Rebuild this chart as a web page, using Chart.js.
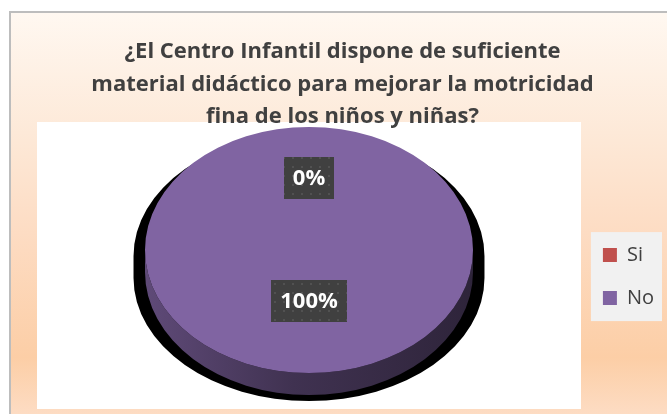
<!DOCTYPE html>
<html>
<head>
<meta charset="utf-8">
<script src="https://cdn.jsdelivr.net/npm/chart.js@4.4.1/dist/chart.umd.min.js"></script>
<style>
  html, body { margin: 0; padding: 0; background: #fff; }
</style>
</head>
<body>
<canvas id="chart" width="667" height="414"></canvas>
<script>
// data
const titleLines = [
  '¿El Centro Infantil dispone de suficiente',
  'material didáctico para mejorar la motricidad',
  'fina de los niños y niñas?'
];
const categories = ['Si', 'No'];
const values = [0, 100];

// styles
const sliceColors = ['#c0504d', '#8064a2'];
const PLOT = { left: 37, top: 122, right: 581, bottom: 409 }; // white plot box
const FLOOR = 31;      // room under the pie for edge + shadow
const TILT = 0.75;     // vertical squash of the pie top
const DEPTH = 22;      // thickness of the 3D edge
const LABEL_LIFT = 11;

function shade(hex, f) {
  const n = parseInt(hex.slice(1), 16);
  const c = [n >> 16, (n >> 8) & 255, n & 255].map(v => Math.round(v * f));
  return 'rgb(' + c.join(',') + ')';
}

// parts of [s, e] that lie on the front (lower) half of the ellipse
function frontRanges(s, e) {
  const out = [];
  for (const k of [-2, 0, 2]) {
    const a = Math.max(s, k * Math.PI), b = Math.min(e, k * Math.PI + Math.PI);
    if (b > a) out.push([a, b]);
  }
  return out;
}

const dots = document.createElement('canvas');
dots.width = dots.height = 9;
const dc = dots.getContext('2d');
dc.fillStyle = 'rgba(255,255,255,0.09)';
dc.fillRect(4, 4, 2, 2);

const backdrop = {
  id: 'backdrop',
  beforeDraw(chart) {
    const { ctx, width, height } = chart;
    ctx.save();
    ctx.fillStyle = '#fff';
    ctx.fillRect(0, 0, width, height);
    const g = ctx.createLinearGradient(0, 12, 0, height);
    g.addColorStop(0, '#fff8f1');
    g.addColorStop(0.3, '#fde9d8');
    g.addColorStop(0.55, '#fddcc3');
    g.addColorStop(0.86, '#fccea6');
    g.addColorStop(1, '#fddcc3');
    ctx.fillStyle = g;
    ctx.fillRect(10, 12, width - 10, height - 12);
    ctx.strokeStyle = '#bdbdbd';
    ctx.lineWidth = 2;
    ctx.beginPath();
    ctx.moveTo(10, height + 5);
    ctx.lineTo(10, 12);
    ctx.lineTo(width + 5, 12);
    ctx.stroke();
    ctx.fillStyle = '#fff';
    ctx.fillRect(PLOT.left, PLOT.top, PLOT.right - PLOT.left, PLOT.bottom - PLOT.top);

    const hb = chart.legend && chart.legend.legendHitBoxes;
    if (hb && hb.length) {
      const l = Math.min(...hb.map(h => h.left)) - 12;
      const r = Math.max(...hb.map(h => h.left + h.width)) + 8;
      const t = hb[0].top - 13;
      const last = hb[hb.length - 1];
      const b = last.top + last.height + 13;
      ctx.fillStyle = '#f1f1f1';
      ctx.fillRect(l, t, r - l, b - t);
    }
    ctx.restore();
  }
};

const pie3d = {
  id: 'pie3d',
  afterLayout(chart) {
    const a = chart.chartArea;
    a.left = PLOT.left;
    a.right = PLOT.right;
    a.top = PLOT.top;
    a.bottom = PLOT.bottom - FLOOR;
    a.width = a.right - a.left;
    a.height = a.bottom - a.top;
  },
  beforeDatasetsDraw(chart) {
    const { ctx } = chart;
    const arcs = chart.getDatasetMeta(0).data;
    const { x, y, outerRadius: r } = arcs[0];
    const ry = r * TILT;
    ctx.save();

    // shadow
    const sr = r * 1.07, sy = y + 6;
    ctx.fillStyle = '#000';
    ctx.beginPath();
    ctx.ellipse(x, sy, sr, ry, 0, Math.PI, 0);
    ctx.lineTo(x + sr, sy + DEPTH);
    ctx.ellipse(x, sy + DEPTH, sr, ry, 0, 0, Math.PI);
    ctx.closePath();
    ctx.fill();

    // edge
    arcs.forEach((arc, i) => {
      const col = sliceColors[i];
      const g = ctx.createLinearGradient(x - r, 0, x + r, 0);
      g.addColorStop(0, shade(col, 0.74));
      g.addColorStop(0.45, shade(col, 0.5));
      g.addColorStop(1, shade(col, 0.36));
      frontRanges(arc.startAngle, arc.endAngle).forEach(([a, b]) => {
        ctx.beginPath();
        ctx.ellipse(x, y, r, ry, 0, a, b);
        ctx.ellipse(x, y + DEPTH, r, ry, 0, b, a, true);
        ctx.closePath();
        ctx.fillStyle = g;
        ctx.fill();
      });
    });
    ctx.restore();

    ctx.save();
    ctx.translate(x, y);
    ctx.scale(1, TILT);
    ctx.translate(-x, -y);
  },
  afterDatasetsDraw(chart) {
    const { ctx } = chart;
    ctx.restore();
    const arcs = chart.getDatasetMeta(0).data;
    const total = values.reduce((s, v) => s + v, 0);
    ctx.save();
    ctx.font = 'bold 22px "Open Sans"';
    ctx.textAlign = 'center';
    ctx.textBaseline = 'middle';
    arcs.forEach((arc, i) => {
      const mid = (arc.startAngle + arc.endAngle) / 2;
      const lx = arc.x + Math.cos(mid) * arc.outerRadius * 0.5;
      const ly = arc.y + Math.sin(mid) * arc.outerRadius * 0.5 * TILT - LABEL_LIFT;
      const text = Math.round(values[i] / total * 100) + '%';
      const w = ctx.measureText(text).width + 18, h = 42;
      ctx.fillStyle = '#404040';
      ctx.fillRect(Math.round(lx - w / 2), Math.round(ly - h / 2), Math.round(w), h);
      ctx.fillStyle = ctx.createPattern(dots, 'repeat');
      ctx.fillRect(Math.round(lx - w / 2), Math.round(ly - h / 2), Math.round(w), h);
      ctx.fillStyle = '#fff';
      ctx.fillText(text, lx, ly + 1);
    });
    ctx.restore();
  }
};

new Chart(document.getElementById('chart'), {
  type: 'pie',
  data: {
    labels: categories,
    datasets: [{
      data: values,
      backgroundColor: sliceColors,
      borderWidth: 0,
      radius: 164
    }]
  },
  options: {
    responsive: false,
    devicePixelRatio: 1,
    animation: false,
    layout: { padding: { top: 12, left: 21, right: 3, bottom: 0 } },
    plugins: {
      title: {
        display: true,
        text: titleLines,
        color: '#404040',
        font: { family: 'Open Sans', size: 22, weight: 'bold', lineHeight: 1.4727 },
        padding: { top: 24, bottom: 6 }
      },
      legend: {
        position: 'right',
        fullSize: false,
        labels: {
          boxWidth: 14,
          boxHeight: 14,
          padding: 23,
          color: '#404040',
          font: { family: 'Open Sans', size: 20 }
        }
      },
      tooltip: { enabled: false }
    }
  },
  plugins: [backdrop, pie3d]
});
</script>
</body>
</html>
